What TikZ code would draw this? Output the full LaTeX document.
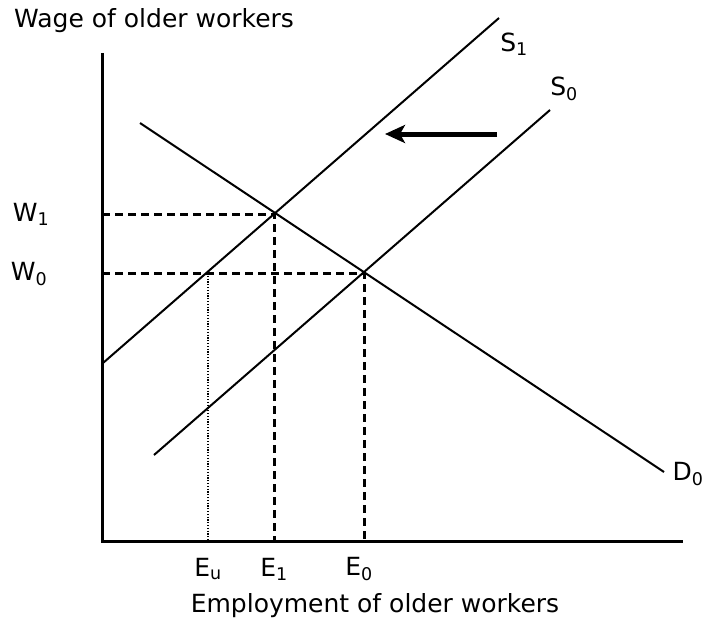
\documentclass[tikz,border=0pt]{standalone}
\usepackage{fontspec}
\setmainfont{DejaVu Sans}
\usetikzlibrary{arrows.meta}

\begin{document}
\begin{tikzpicture}[x=1pt, y=-1pt,
    curve/.style={line width=2pt},
    axis/.style={line width=3pt},
    guide/.style={line width=3pt, dash pattern=on 8pt off 5pt},
    guidedot/.style={line width=2.4pt, dash pattern=on 1.2pt off 1.6pt},
    lbl/.style={font=\fontsize{25}{28}\selectfont, inner sep=0pt}]
  \useasboundingbox (0,0) rectangle (703,623);

  % Achsen
  \coordinate (top) at (102,53);
  \coordinate (orig) at (102,541);
  \coordinate (right) at (683,541);
  \draw[axis] (top) -- (orig) -- (right);
  \node[lbl, anchor=west] (ylab) at (14,21) {Wage of older workers};
  \node[lbl] (xlab) at (375,606) {Employment of older workers};

  % Kurven
  \coordinate (s1a) at (103,363);
  \coordinate (s1b) at (499,18);
  \coordinate (s0a) at (154,455);
  \coordinate (s0b) at (550,110);
  \coordinate (da) at (140,123);
  \coordinate (db) at (664,472);
  \draw[curve] (s1a) -- (s1b);
  \draw[curve] (s0a) -- (s0b);
  \draw[curve] (da) -- (db);
  \node[lbl] (s1lab) at (514,44) {S\textsubscript{1}};
  \node[lbl] (s0lab) at (564,89) {S\textsubscript{0}};
  \node[lbl] (dlab) at (688,474) {D\textsubscript{0}};

  % Gleichgewichte
  \coordinate (eq1) at (274,214);
  \coordinate (eq0) at (364,273);
  \coordinate (equ) at (208,273);
  \coordinate (w1) at (102,214);
  \coordinate (w0) at (102,273);
  \coordinate (e1) at (274,541);
  \coordinate (e0) at (364,541);
  \coordinate (eu) at (208,541);
  \draw[guide] (w1) -- (eq1) -- (e1);
  \draw[guide] (w0) -- (eq0) -- (e0);
  \draw[guidedot] (equ) -- (eu);
  \node[lbl] (w1lab) at (31,214) {W\textsubscript{1}};
  \node[lbl] (w0lab) at (29,274) {W\textsubscript{0}};
  \node[lbl] (eulab) at (208,569) {E\textsubscript{u}};
  \node[lbl] (e1lab) at (274,569) {E\textsubscript{1}};
  \node[lbl] (e0lab) at (359,569) {E\textsubscript{0}};

  % Verschiebung
  \coordinate (shfrom) at (497,134);
  \coordinate (shto) at (385,134);
  \draw[line width=5pt, -{Stealth[length=20pt, width=18pt, inset=5pt]}] (shfrom) -- (shto);
\end{tikzpicture}
\end{document}
